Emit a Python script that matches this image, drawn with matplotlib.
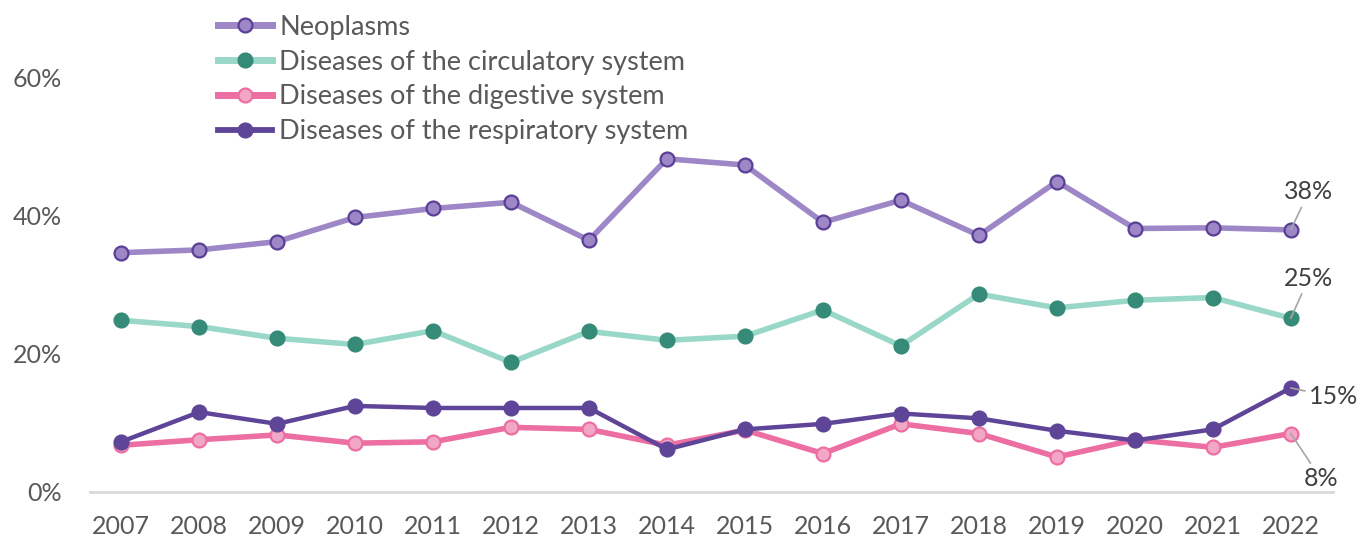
import matplotlib.pyplot as plt
from matplotlib.lines import Line2D

plt.rcParams['font.family'] = ['Lato', 'DejaVu Sans']

years = list(range(2007, 2023))
neoplasms = [34.6, 35.0, 36.2, 39.7, 41.0, 41.9, 36.4, 48.2, 47.3, 39.0,
             42.2, 37.1, 44.9, 38.1, 38.2, 37.9]
circulatory = [24.8, 23.9, 22.2, 21.3, 23.3, 18.7, 23.2, 21.9, 22.5, 26.3,
               21.1, 28.6, 26.6, 27.7, 28.1, 25.1]
digestive = [6.7, 7.5, 8.2, 7.0, 7.2, 9.3, 9.0, 6.7, 8.9, 5.5,
             9.8, 8.4, 5.0, 7.5, 6.4, 8.4]
respiratory = [7.2, 11.5, 9.8, 12.4, 12.1, 12.1, 12.1, 6.1, 9.0, 9.8,
               11.3, 10.6, 8.8, 7.4, 9.0, 15.0]

names = ['Neoplasms', 'Diseases of the circulatory system',
         'Diseases of the digestive system', 'Diseases of the respiratory system']

# (line colour, marker face, marker edge, line width)
styles = [
    ('#9d87c7', '#9d87c7', '#5b3f96', 4.0),
    ('#99d8c8', '#368a78', '#368a78', 4.0),
    ('#ec6ea2', '#f3a7c6', '#ec6ea2', 4.0),
    ('#5e4598', '#5e4598', '#5e4598', 3.2),
]

fig = plt.figure(figsize=(13.71, 5.40), dpi=100)
ax = fig.add_axes([0.0656, 0.0898, 0.9066, 0.767])

series = [neoplasms, circulatory, digestive, respiratory]
handles = []
for vals, name, (lc, mf, me, lw) in zip(series, names, styles):
    ax.plot(years, vals, color=lc, lw=lw, marker='o', markersize=10,
            markerfacecolor=mf, markeredgecolor=me, markeredgewidth=1.6,
            solid_joinstyle='round', zorder=3)
    handles.append(Line2D([], [], color=lc, lw=lw + 1, marker='o', markersize=10,
                          markerfacecolor=mf, markeredgecolor=me,
                          markeredgewidth=1.6))

ax.set_xlim(2006.6, 2022.54)
ax.set_ylim(0, 60)
ax.set_xticks(years)
ax.set_yticks([0, 20, 40, 60])
ax.set_yticklabels(['0%', '20%', '40%', '60%'])
ax.tick_params(length=0, labelsize=18, colors='#595959')
ax.tick_params(axis='x', pad=17)
ax.tick_params(axis='y', pad=20)
for s in ['top', 'right', 'left']:
    ax.spines[s].set_visible(False)
ax.spines['bottom'].set_color('#d9d9d9')
ax.spines['bottom'].set_linewidth(2)
ax.spines['bottom'].set_zorder(1)

# end-of-series labels with leader lines
last = years[-1]
offsets = [(18, 38), (18, 40), (30, -45), (43, -9)]
for vals, (dx, dy) in zip(series, offsets):
    ax.annotate(f'{vals[-1]:.0f}%', xy=(last, vals[-1]), xytext=(dx, dy),
                textcoords='offset pixels', ha='center', va='center',
                fontsize=18, color='#404040', annotation_clip=False,
                arrowprops=dict(arrowstyle='-', color='#a6a6a6', lw=1.2,
                                shrinkA=1, shrinkB=0))

fig.legend(handles, names, loc='upper left', bbox_to_anchor=(0.148, 1.0),
           frameon=False, fontsize=19.5, labelcolor='#595959',
           handlelength=2.0, handletextpad=0.27, labelspacing=0.36,
           borderaxespad=0.15)

fig.savefig('out.png', dpi=100)
